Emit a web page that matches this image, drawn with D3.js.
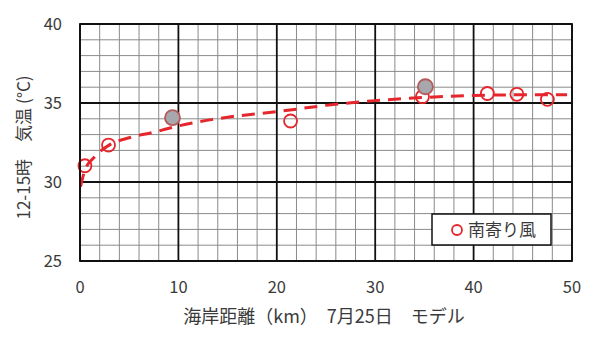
<!DOCTYPE html>
<html>
<head>
<meta charset="utf-8">
<script src="https://cdn.jsdelivr.net/npm/d3@7"></script>
<style>
  body { margin: 0; background: #fff; }
  text { font-family: "Noto Sans CJK JP", "Noto Sans", sans-serif; fill: #3a3a3a; }
</style>
</head>
<body>
<svg id="chart" width="600" height="344"></svg>
<script>
// observed points (南寄り風)
const openX = [0.5, 2.9, 21.4, 34.8, 41.4, 44.4, 47.5];
const openY = [31.03, 32.34, 33.86, 35.4, 35.6, 35.55, 35.23];
// highlighted points (gray fill)
const fillX = [9.4, 35.1];
const fillY = [34.07, 36.03];
// dashed trend curve
const trendX = [0.05, 0.5, 1.5, 3, 5, 7.5, 10, 15, 20, 25, 30, 35, 40, 45, 49.5];
const trendY = [29.7, 30.75, 31.6, 32.35, 32.8, 33.15, 33.55, 34.1, 34.45, 34.85, 35.15, 35.35, 35.47, 35.52, 35.52];

const xTicks = [0, 10, 20, 30, 40, 50];
const yTicks = [25, 30, 35, 40];
const xTitle = '海岸距離（km）　7月25日　モデル';
const yTitle = '12-15時　気温 (°C)';
const legendLabel = '南寄り風';

const red = '#e5262c';

const svg = d3.select('#chart');
const margin = { top: 24, right: 28, bottom: 83, left: 80 };
const width = 600 - margin.left - margin.right;
const height = 344 - margin.top - margin.bottom;

const x = d3.scaleLinear().domain([0, 50]).range([0, width]);
const y = d3.scaleLinear().domain([25, 40]).range([height, 0]);

const g = svg.append('g').attr('transform', `translate(${margin.left},${margin.top})`);

// minor grid
g.append('g')
    .selectAll('line')
    .data(d3.range(0, 51, 2).filter(d => d % 10 !== 0))
    .join('line')
    .attr('x1', d => x(d)).attr('x2', d => x(d))
    .attr('y1', 0).attr('y2', height)
    .attr('stroke', '#8a8a8a').attr('stroke-width', 1);

g.append('g')
    .selectAll('line')
    .data(d3.range(25, 41, 1).filter(d => d % 5 !== 0))
    .join('line')
    .attr('x1', 0).attr('x2', width)
    .attr('y1', d => y(d)).attr('y2', d => y(d))
    .attr('stroke', '#8a8a8a').attr('stroke-width', 1);

// major grid
g.append('g')
    .selectAll('line')
    .data(xTicks)
    .join('line')
    .attr('x1', d => x(d)).attr('x2', d => x(d))
    .attr('y1', 0).attr('y2', height)
    .attr('stroke', '#111').attr('stroke-width', 1.8);

g.append('g')
    .selectAll('line')
    .data(yTicks)
    .join('line')
    .attr('x1', 0).attr('x2', width)
    .attr('y1', d => y(d)).attr('y2', d => y(d))
    .attr('stroke', '#111').attr('stroke-width', 1.8);

// tick labels
g.append('g')
    .selectAll('text')
    .data(xTicks)
    .join('text')
    .attr('x', d => x(d))
    .attr('y', height + 32)
    .attr('text-anchor', 'middle')
    .style('font-size', '16.5px')
    .text(d => d);

g.append('g')
    .selectAll('text')
    .data(yTicks)
    .join('text')
    .attr('x', -18)
    .attr('y', d => y(d) + 6)
    .attr('text-anchor', 'end')
    .style('font-size', '16.5px')
    .text(d => d);

// axis titles
g.append('text')
    .attr('x', width / 2 - 2)
    .attr('y', height + 62)
    .attr('text-anchor', 'middle')
    .style('font-size', '18px')
    .text(xTitle);

svg.append('text')
    .attr('transform', `translate(30,${margin.top + height / 2 + 5}) rotate(-90)`)
    .attr('text-anchor', 'middle')
    .style('font-size', '17px')
    .text(yTitle);

// trend line
const trend = trendX.map((d, i) => [d, trendY[i]]);
const line = d3.line()
    .x(d => x(d[0]))
    .y(d => y(d[1]))
    .curve(d3.curveMonotoneX);

g.append('path')
    .datum(trend)
    .attr('d', line)
    .attr('fill', 'none')
    .attr('stroke', red)
    .attr('stroke-width', 3)
    .attr('stroke-dasharray', '13,8');

// points
g.append('g')
    .selectAll('circle')
    .data(openX.map((d, i) => [d, openY[i]]))
    .join('circle')
    .attr('cx', d => x(d[0]))
    .attr('cy', d => y(d[1]))
    .attr('r', 6.5)
    .attr('fill', 'none')
    .attr('stroke', red)
    .attr('stroke-width', 1.8);

g.append('g')
    .selectAll('circle')
    .data(fillX.map((d, i) => [d, fillY[i]]))
    .join('circle')
    .attr('cx', d => x(d[0]))
    .attr('cy', d => y(d[1]))
    .attr('r', 7.5)
    .attr('fill', '#a7a7ad')
    .attr('stroke', '#b45a5a')
    .attr('stroke-width', 1.8);

// frame
g.append('rect')
    .attr('width', width).attr('height', height)
    .attr('fill', 'none')
    .attr('stroke', '#111').attr('stroke-width', 1.8);

// legend
const legend = svg.append('g').attr('transform', 'translate(432,214)');
legend.append('rect')
    .attr('width', 119).attr('height', 31)
    .attr('fill', '#fff')
    .attr('stroke', '#111').attr('stroke-width', 1.5);
legend.append('circle')
    .attr('cx', 25).attr('cy', 16).attr('r', 5)
    .attr('fill', 'none')
    .attr('stroke', red).attr('stroke-width', 1.8);
legend.append('text')
    .attr('x', 36).attr('y', 22)
    .style('font-size', '17px')
    .text(legendLabel);
</script>
</body>
</html>
